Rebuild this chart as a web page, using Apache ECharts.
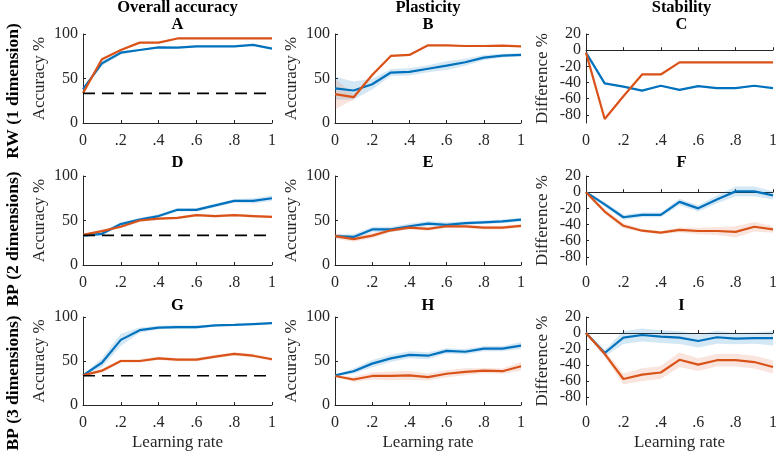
<!DOCTYPE html>
<html><head><meta charset="utf-8">
<script src="https://cdn.jsdelivr.net/npm/echarts@6/dist/echarts.min.js"></script>
<style>html,body{margin:0;padding:0;background:#fff}#c{width:780px;height:452px}</style>
</head><body><div id="c"></div>
<script>
// ---- data ----
const xs = [0, 0.1, 0.2, 0.3, 0.4, 0.5, 0.6, 0.7, 0.8, 0.9, 1];
const chance = 33.3;
const colTitles = ['Overall accuracy', 'Plasticity', 'Stability'];
const rowTitles = ['RW (1 dimension)', 'BP (2 dimensions)', 'BP (3 dimensions)'];
const panelLetters = ['A','B','C','D','E','F','G','H','I'];
const accTicks = [0, 50, 100];
const diffTicks = [-80, -60, -40, -20, 0, 20];
const xTicks = [0, 0.2, 0.4, 0.6, 0.8, 1];

const aBlue    = [38, 67, 79, 82, 85, 84.7, 86, 86, 86, 87.7, 83.6];
const aBlueErr = [1, 3, 2, 1, 1, 1, 1, 1, 1, 1, 1];
const aOrange  = [33.6, 71.6, 82, 90.3, 90.3, 95, 95, 95, 95, 95, 95];
const aOrangeErr = [1, 1, 1, 1, 1, 1, 1, 1, 1, 1, 1];

const bBlue    = [39, 36.5, 43.6, 56.7, 57.5, 61, 64.5, 68.3, 73.5, 75.7, 76.5];
const bBlueErr = [13, 10, 6, 4, 4, 4, 5, 4, 3, 2, 2];
const bOrange  = [32.5, 29, 54, 75.4, 76.5, 87.3, 87.3, 86.5, 86.5, 87, 86];
const bOrangeErr = [17, 3, 2, 1, 1, 1, 1, 1, 1, 1, 1];

const cBlue    = [-3, -41, -45, -50, -44, -49, -44.5, -47, -47, -44, -47];
const cBlueErr = [1, 1, 1, 1, 1, 1, 1, 1, 1, 1, 1];
const cOrange  = [-3, -85, -57, -30, -30, -15, -15, -15, -15, -15, -15];
const cOrangeErr = [1, 1, 1, 1, 1, 1, 1, 1, 1, 1, 1];

const dBlue    = [33, 35, 46, 51, 55, 62, 62, 67, 72, 72, 75];
const dBlueErr = [1, 2, 2, 2, 2, 2, 2, 2, 2, 3, 3];
const dOrange  = [34, 38, 43, 50, 52, 53, 56, 55, 56, 55, 54];
const dOrangeErr = [1, 1.5, 1.5, 1.5, 1.5, 1.5, 1.5, 1.5, 1.5, 1.5, 1.5];

const eBlue    = [32.5, 31.5, 40, 40, 43.5, 46.5, 45, 47, 48, 49, 51];
const eBlueErr = [2, 3, 3, 3, 3, 3, 3, 2, 2, 2, 2];
const eOrange  = [32.5, 29, 33, 39, 42, 40.5, 43.5, 43.5, 42, 42, 44];
const eOrangeErr = [3, 3, 3, 2, 2, 2, 2, 2, 2, 2, 2];

const fBlue    = [0, -15, -31, -28, -28, -12, -20, -9, 1, 1, -4];
const fBlueErr = [1, 3, 3, 3, 3, 4, 4, 5, 6, 6, 5];
const fOrange  = [0, -24, -41.5, -47.6, -50, -46.5, -48, -48, -49, -42.7, -46];
const fOrangeErr = [1, 3, 3, 2, 2, 3, 4, 5, 7, 6, 4];

const gBlue    = [33.6, 48, 74, 85, 88, 88.5, 88.5, 90.5, 91, 92, 93];
const gBlueErr = [1, 5, 7, 3, 2, 2, 2, 1, 1, 1, 1];
const gOrange  = [33.6, 39, 50, 50, 53, 51.5, 51.5, 55, 58, 56, 52];
const gOrangeErr = [1, 2, 2, 2, 2, 2, 2, 2, 2, 2, 2];

const hBlue    = [33.6, 38.4, 47, 53, 57, 56, 61.5, 60.5, 64, 64, 67.5];
const hBlueErr = [1, 3, 4, 4, 4, 4, 3, 3, 3, 3, 4];
const hOrange  = [33, 29, 33, 33, 33.6, 31.7, 35.5, 37.7, 39, 38.4, 44];
const hOrangeErr = [1, 3, 4, 5, 5, 4, 4, 4, 3, 3, 5];

const iBlue    = [0, -25, -5.7, -2.5, -4.5, -5.7, -10, -5.3, -7, -6.5, -6.5];
const iBlueErr = [1, 4, 8, 8, 8, 8, 8, 8, 7, 7, 9];
const iOrange  = [0, -26, -57.5, -52, -49.4, -33.5, -39.6, -34, -34, -36.3, -42.5];
const iOrangeErr = [1, 4, 7, 8, 8, 9, 8, 8, 8, 8, 8];

const panels = [
  {blue:aBlue, blueErr:aBlueErr, orange:aOrange, orangeErr:aOrangeErr, kind:'acc', chance:true},
  {blue:bBlue, blueErr:bBlueErr, orange:bOrange, orangeErr:bOrangeErr, kind:'acc'},
  {blue:cBlue, blueErr:cBlueErr, orange:cOrange, orangeErr:cOrangeErr, kind:'diff'},
  {blue:dBlue, blueErr:dBlueErr, orange:dOrange, orangeErr:dOrangeErr, kind:'acc', chance:true},
  {blue:eBlue, blueErr:eBlueErr, orange:eOrange, orangeErr:eOrangeErr, kind:'acc'},
  {blue:fBlue, blueErr:fBlueErr, orange:fOrange, orangeErr:fOrangeErr, kind:'diff'},
  {blue:gBlue, blueErr:gBlueErr, orange:gOrange, orangeErr:gOrangeErr, kind:'acc', chance:true},
  {blue:hBlue, blueErr:hBlueErr, orange:hOrange, orangeErr:hOrangeErr, kind:'acc'},
  {blue:iBlue, blueErr:iBlueErr, orange:iOrange, orangeErr:iOrangeErr, kind:'diff'}
];

// ---- layout / style ----
const FONT = '"Liberation Serif", "Times New Roman", serif';
const AXC = '#262626';
const BLUE = '#0072BD', ORANGE = '#D95319';
const BLUE_BAND = 'rgba(0,114,189,0.17)', ORANGE_BAND = 'rgba(217,83,25,0.15)';
const colLeft = [83, 335, 586], colWidth = [189, 186, 191];
const rowTop = [34, 176, 317], rowHeight = 89;

const chart = echarts.init(document.getElementById('c'), null, {renderer:'canvas'});
const grid = [], xAxis = [], yAxis = [], series = [], graphic = [];

function bandSeries(gi, mean, err, color) {
  return {
    type: 'custom', xAxisIndex: gi, yAxisIndex: gi, silent: true, z: 1,
    data: xs.map((x, i) => [x, mean[i] - err[i], mean[i] + err[i]]),
    encode: {x: 0, y: [1, 2]},
    renderItem: function (params, api) {
      if (params.dataIndex !== 0) return null;
      const pts = [];
      for (let i = 0; i < xs.length; i++) pts.push(api.coord([xs[i], mean[i] + err[i]]));
      for (let i = xs.length - 1; i >= 0; i--) pts.push(api.coord([xs[i], mean[i] - err[i]]));
      return {type: 'polygon', shape: {points: pts}, style: {fill: color}};
    }
  };
}

panels.forEach((p, gi) => {
  const r = Math.floor(gi / 3), c = gi % 3;
  grid.push({left: colLeft[c], top: rowTop[r], width: colWidth[c], height: rowHeight});
  xAxis.push({
    type: 'value', gridIndex: gi, min: 0, max: 1, interval: 0.2,
    name: r === 2 ? 'Learning rate' : '', nameLocation: 'middle', nameGap: 29,
    nameTextStyle: {fontFamily: FONT, fontSize: 17, color: AXC},
    axisLine: {show: true, lineStyle: {color: AXC, width: 1}},
    axisTick: {show: true, inside: true, length: 3, lineStyle: {color: AXC}},
    splitLine: {show: false},
    axisLabel: {fontFamily: FONT, fontSize: 16, color: AXC, margin: 10,
      formatter: v => (v === 0 ? '0' : v === 1 ? '1' : v.toFixed(1).replace(/^0/, ''))}
  });
  const isAcc = p.kind === 'acc';
  yAxis.push({
    type: 'value', gridIndex: gi,
    min: isAcc ? 0 : -90, max: isAcc ? 100 : 20,
    name: isAcc ? 'Accuracy %' : 'Difference %', nameLocation: 'middle', nameGap: isAcc ? 35 : 35,
    nameTextStyle: {fontFamily: FONT, fontSize: 17, color: AXC},
    axisLine: {show: true, lineStyle: {color: AXC, width: 1}},
    axisTick: {show: true, inside: true, length: 3, lineStyle: {color: AXC},
      customValues: isAcc ? accTicks : diffTicks},
    splitLine: {show: false},
    axisLabel: {fontFamily: FONT, fontSize: 16, color: AXC, margin: 5,
      customValues: isAcc ? accTicks : diffTicks}
  });
  series.push(bandSeries(gi, p.blue, p.blueErr, BLUE_BAND));
  series.push(bandSeries(gi, p.orange, p.orangeErr, ORANGE_BAND));
  series.push({type: 'line', xAxisIndex: gi, yAxisIndex: gi, z: 3, symbol: 'none', silent: true,
    data: xs.map((x, i) => [x, p.blue[i]]), lineStyle: {color: BLUE, width: 2.2}});
  series.push({type: 'line', xAxisIndex: gi, yAxisIndex: gi, z: 4, symbol: 'none', silent: true,
    data: xs.map((x, i) => [x, p.orange[i]]), lineStyle: {color: ORANGE, width: 2.2}});
  if (p.chance) {
    series.push({type: 'line', xAxisIndex: gi, yAxisIndex: gi, z: 5, symbol: 'none', silent: true,
      data: [[0, chance], [1, chance]], lineStyle: {color: '#000', width: 1.6, type: [12, 7]}});
  }
});

// column titles and panel letters
const titleStyle = {fontFamily: FONT, fontWeight: 'bold', fontSize: 16.5, fill: '#000',
  textAlign: 'center', textVerticalAlign: 'middle'};
colTitles.forEach((t, c) => {
  graphic.push({type: 'text', x: colLeft[c] + colWidth[c] / 2, y: 8,
    style: Object.assign({text: t}, titleStyle)});
});
const letterY = [25, 163, 306];
panelLetters.forEach((L, gi) => {
  const r = Math.floor(gi / 3), c = gi % 3;
  graphic.push({type: 'text', x: colLeft[c] + colWidth[c] / 2, y: letterY[r],
    style: Object.assign({text: L}, titleStyle)});
});
const rowCenterY = [91, 239, 383];
rowTitles.forEach((t, r) => {
  graphic.push({type: 'text', x: 13, y: rowCenterY[r], rotation: Math.PI / 2,
    style: Object.assign({text: t}, titleStyle, {fontSize: 17.5})});
});

chart.setOption({animation: false, grid, xAxis, yAxis, series, graphic});
</script></body></html>
